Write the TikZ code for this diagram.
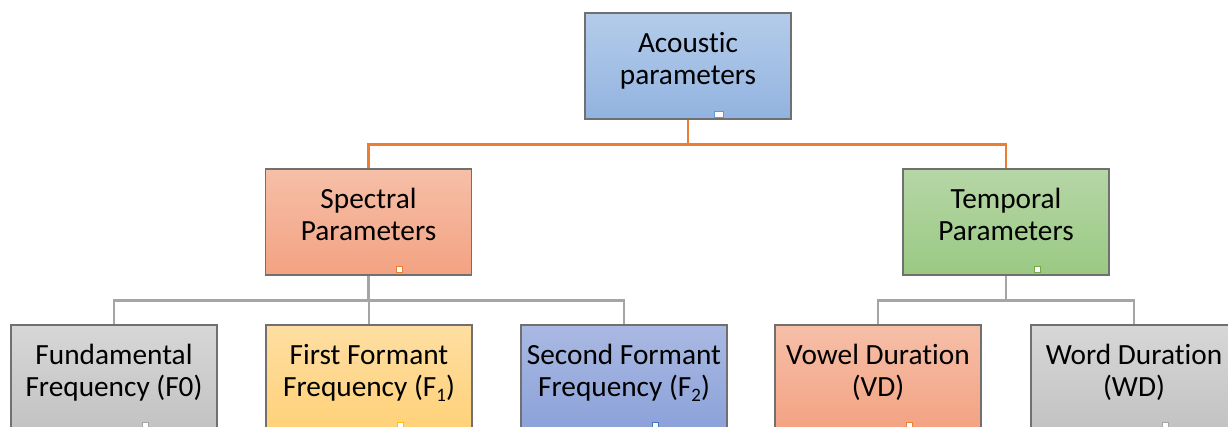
\documentclass[tikz,border=0pt]{standalone}
\usepackage{fontspec}
\setmainfont{Carlito}[Ligatures=NoCommon]
\definecolor{bordc}{HTML}{707070}
\definecolor{orline}{HTML}{ED7D31}
\definecolor{grline}{HTML}{A5A5A5}
\definecolor{acT}{HTML}{B4CCEA}\definecolor{acB}{HTML}{92B3E0}
\definecolor{spT}{HTML}{F6BFA8}\definecolor{spB}{HTML}{F3A282}
\definecolor{tpT}{HTML}{B6D6A6}\definecolor{tpB}{HTML}{9AC983}
\definecolor{gyT}{HTML}{D7D7D7}\definecolor{gyB}{HTML}{C2C2C2}
\definecolor{ylT}{HTML}{FEDEA2}\definecolor{ylB}{HTML}{FFD178}
\definecolor{bfT}{HTML}{AAB9E2}\definecolor{bfB}{HTML}{8BA1D9}
\definecolor{mkBlue}{HTML}{5B9BD5}
\definecolor{mkOr}{HTML}{ED7D31}
\definecolor{mkGr}{HTML}{70AD47}
\definecolor{mkGy}{HTML}{A5A5A5}
\definecolor{mkYl}{HTML}{FFC000}
\definecolor{mkBf}{HTML}{4472C4}
\newcommand{\twol}[2]{\rule{0pt}{25pt}#1\\#2\rule[-21pt]{0pt}{21pt}}
\newcommand{\lowsub}[1]{\raisebox{-5pt}{\fontsize{19}{19}\selectfont #1}}
\tikzset{
  box/.style n args={2}{draw=bordc, line width=1.1pt, top color=#1, bottom color=#2,
    minimum width=206pt, minimum height=106pt, inner sep=0pt, align=center,
    font=\fontsize{29.3}{32}\selectfont, text=black},
  orconn/.style={draw=orline, line width=2.2pt},
  grconn/.style={draw=grline, line width=2.2pt},
  marker/.style={draw=#1, fill=white, line width=1pt, minimum width=6pt, minimum height=6pt, inner sep=0pt},
}
\begin{document}
\begin{tikzpicture}[x=1pt,y=-1pt]
\useasboundingbox (0,0) rectangle (1228,426);
\clip (0,0) rectangle (1228,426);
\node[box={acT}{acB}] (ac) at (688,66) {\twol{Acoustic}{parameters}};
\node[box={spT}{spB}] (sp) at (368.5,222) {\twol{Spectral}{Parameters}};
\node[box={tpT}{tpB}] (tp) at (1006,222) {\twol{Temporal}{Parameters}};
\node[box={gyT}{gyB}] (f0) at (114,378) {\twol{Fundamental}{Frequency (F0)}};
\node[box={ylT}{ylB}] (f1) at (369,378) {\twol{First Formant}{Frequency (F\lowsub{1})}};
\node[box={bfT}{bfB}] (f2) at (624,378) {\twol{Second Formant}{Frequency (F\lowsub{2})}};
\node[box={spT}{spB}] (vd) at (878,378) {\twol{Vowel Duration}{(VD)}};
\node[box={gyT}{gyB}] (wd) at (1134,378) {\twol{Word Duration}{(WD)}};
% connectors
\draw[orconn] (ac.south) -- ++(0,25) -| (sp.north);
\draw[orconn] (ac.south) -- ++(0,25) -| (tp.north);
\draw[grconn] (sp.south) -- ++(0,25) -| (f0.north);
\draw[grconn] (sp.south) -- ++(0,25) -| (f1.north);
\draw[grconn] (sp.south) -- ++(0,25) -| (f2.north);
\draw[grconn] (tp.south) -- ++(0,25) -| (vd.north);
\draw[grconn] (tp.south) -- ++(0,25) -| (wd.north);
% small markers
\node[marker=mkBlue, minimum width=9pt] (mac) at ([xshift=31pt,yshift=5pt]ac.south) {};
\node[marker=mkOr] (msp) at ([xshift=31pt,yshift=6pt]sp.south) {};
\node[marker=mkGr] (mtp) at ([xshift=31pt,yshift=6pt]tp.south) {};
\node[marker=mkGy] (mf0) at ([xshift=31pt,yshift=6pt]f0.south) {};
\node[marker=mkYl] (mf1) at ([xshift=31pt,yshift=6pt]f1.south) {};
\node[marker=mkBf] (mf2) at ([xshift=31pt,yshift=6pt]f2.south) {};
\node[marker=mkOr] (mvd) at ([xshift=31pt,yshift=6pt]vd.south) {};
\node[marker=mkGy] (mwd) at ([xshift=31pt,yshift=6pt]wd.south) {};
\end{tikzpicture}
\end{document}
